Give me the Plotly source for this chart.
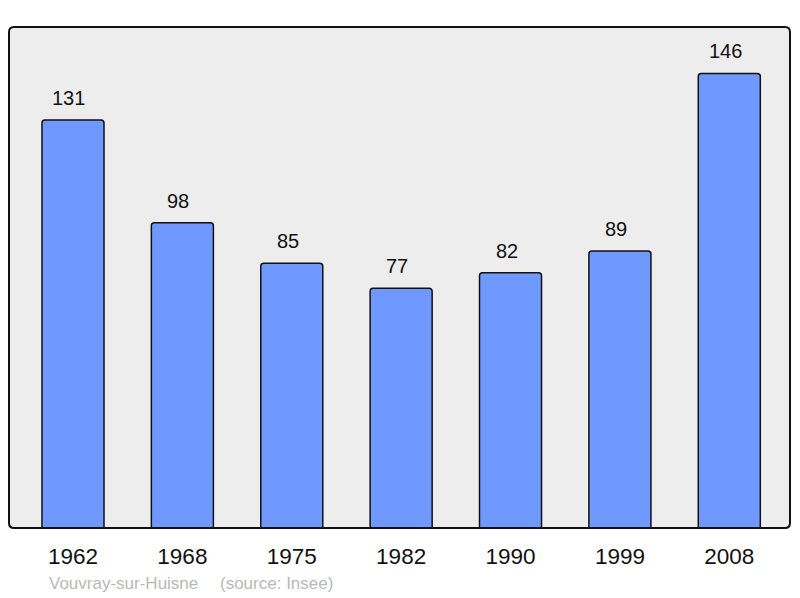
import plotly.graph_objects as go

years = ["1962", "1968", "1975", "1982", "1990", "1999", "2008"]
population = [131, 98, 85, 77, 82, 89, 146]
commune = "Vouvray-sur-Huisne"
source = "(source: Insee)"

# page body has an 8px margin, so shift everything by -8
OFF = 8
W, H = 800 - OFF, 598 - OFF
L, R, T, B = 9 - OFF, 10, 27 - OFF, 70
pw, ph = W - L - R, H - T - B

fig = go.Figure()
fig.add_trace(go.Bar(
    x=years, y=population, width=0.567,
    marker=dict(color="#7099ff", line=dict(color="#111111", width=1.5)),
    hoverinfo="x+y",
))

for i, v in enumerate(population):
    fig.add_annotation(x=i, y=v, text=str(v), showarrow=False, yanchor="bottom",
                       yshift=9, xshift=-4,
                       font=dict(size=20, color="#111111", family="Liberation Sans"))

# rounded border around plot area
rx, ry = 5 / pw, 5 / ph
path = (f"M {rx},0 L {1-rx},0 Q 1,0 1,{ry} L 1,{1-ry} Q 1,1 {1-rx},1 "
        f"L {rx},1 Q 0,1 0,{1-ry} L 0,{ry} Q 0,0 {rx},0 Z")
fig.add_shape(type="path", path=path, xref="paper", yref="paper",
              line=dict(color="#111111", width=2), layer="above")

fy = -(583 - 528) / ph
fig.add_annotation(x=(47 - 9) / pw, y=fy, xref="paper", yref="paper",
                   text=commune, showarrow=False, xanchor="left", yanchor="middle",
                   font=dict(size=17, color="#b8b8b8", family="Liberation Sans"))
fig.add_annotation(x=(218 - 9) / pw, y=fy, xref="paper", yref="paper",
                   text=source, showarrow=False, xanchor="left", yanchor="middle",
                   font=dict(size=17, color="#b8b8b8", family="Liberation Sans"))

fig.update_layout(
    width=W, height=H,
    margin=dict(l=L, r=R, t=T, b=B),
    paper_bgcolor="white", plot_bgcolor="#ededed",
    showlegend=False,
    font=dict(family="Liberation Sans"),
    xaxis=dict(type="category", range=[-0.585, 6.555], showgrid=False, zeroline=False,
               ticks="outside", ticklen=8, tickcolor="rgba(0,0,0,0)",
               tickfont=dict(size=22.5, color="#111111"), fixedrange=True),
    yaxis=dict(range=[0, 160.9], showgrid=False, zeroline=False, showticklabels=False,
               fixedrange=True),
    barcornerradius=3,
)

fig.write_html("out.html")
